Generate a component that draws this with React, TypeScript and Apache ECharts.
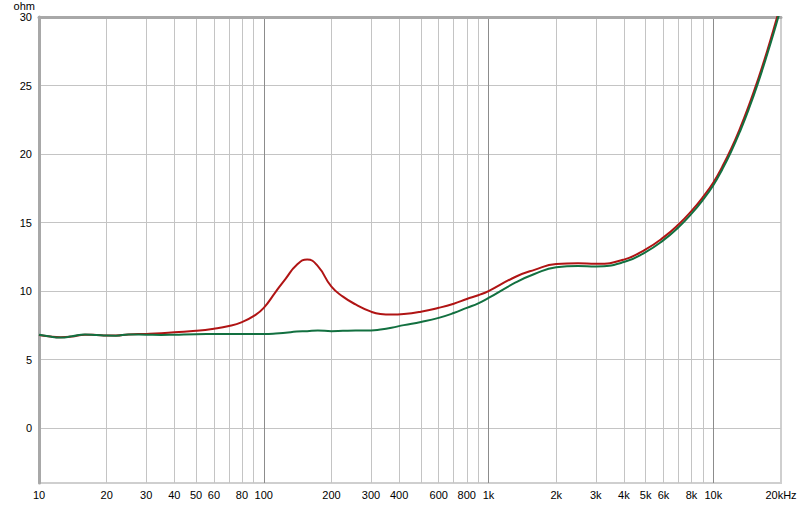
import React, { useEffect, useRef } from "react";
import * as echarts from "echarts";

const freqs = [10, 11, 12.5, 14, 16, 18, 20, 22, 25, 30, 35, 40, 50, 60, 70, 80, 90, 100, 113, 125, 140, 156, 174, 200, 225, 256, 300, 330, 370, 420, 500, 600, 700, 800, 900, 1000, 1320, 1600, 2000, 2500, 3000, 4000, 5000, 6000, 7000, 8000, 9000, 10000, 10960, 12020, 13180, 14450, 15850, 17380, 19050, 20000];

const redOhm = [6.8, 6.7, 6.63, 6.68, 6.82, 6.8, 6.76, 6.76, 6.84, 6.88, 6.93, 7.0, 7.1, 7.25, 7.45, 7.74, 8.17, 8.78, 9.95, 10.9, 11.9, 12.31, 11.82, 10.32, 9.6, 9.03, 8.5, 8.33, 8.29, 8.33, 8.5, 8.78, 9.08, 9.42, 9.7, 10.0, 11.05, 11.55, 11.97, 12.03, 12.0, 12.3, 13.05, 13.92, 14.86, 15.85, 16.87, 17.93, 19.08, 20.41, 21.93, 23.63, 25.5, 27.55, 29.77, 31.0];

const greenOhm = [6.81, 6.7, 6.62, 6.7, 6.84, 6.8, 6.76, 6.75, 6.84, 6.82, 6.8, 6.82, 6.86, 6.87, 6.88, 6.88, 6.87, 6.87, 6.9, 6.96, 7.05, 7.08, 7.13, 7.08, 7.1, 7.12, 7.13, 7.2, 7.33, 7.52, 7.75, 8.05, 8.4, 8.78, 9.1, 9.5, 10.63, 11.25, 11.74, 11.83, 11.8, 12.12, 12.85, 13.72, 14.66, 15.65, 16.67, 17.73, 18.88, 20.2, 21.7, 23.38, 25.25, 27.3, 29.48, 30.7];

const xLabelValues = [10, 20, 30, 40, 50, 60, 80, 100, 200, 300, 400, 600, 800, 1000, 2000, 3000, 4000, 5000, 6000, 8000, 10000, 20000];
const xMinorLines = [20, 30, 40, 50, 60, 70, 80, 90, 200, 300, 400, 500, 600, 700, 800, 900, 2000, 3000, 4000, 5000, 6000, 7000, 8000, 9000];
const xDecadeLines = [100, 1000, 10000];
const yTickValues = [0, 5, 10, 15, 20, 25, 30];

const FONT = "'Liberation Sans', Arial, sans-serif";

function fmtFreq(v: number): string {
  if (v >= 20000) return "20kHz";
  if (v >= 1000) return Math.round(v / 1000) + "k";
  return String(Math.round(v));
}

export default function App() {
  const ref = useRef<HTMLDivElement>(null);
  useEffect(() => {
    if (!ref.current) return;
    const chart = echarts.init(ref.current, null, { renderer: "svg" });
    const red = freqs.map((f, i) => [f, redOhm[i]]);
    const green = freqs.map((f, i) => [f, greenOhm[i]]);
    chart.setOption({
      animation: false,
      backgroundColor: "#ffffff",
      grid: {
        left: 39,
        right: 19,
        top: 17,
        bottom: 22,
        show: true,
        borderColor: "#cfcfcf",
        borderWidth: 2,
        backgroundColor: "#ffffff",
      },
      xAxis: [
        {
          type: "log",
          logBase: 10,
          min: 10,
          max: 20000,
          position: "bottom",
          axisLine: { show: false },
          axisTick: { show: false, customValues: xMinorLines },
          axisLabel: {
            show: true,
            customValues: xLabelValues,
            formatter: (v: number) => fmtFreq(v),
            color: "#000",
            fontFamily: FONT,
            fontSize: 11,
            margin: 6,
          },
          splitLine: { show: true, lineStyle: { color: "#c4c4c4", width: 1 } },
        },
        {
          type: "log",
          logBase: 10,
          min: 10,
          max: 20000,
          position: "top",
          axisLine: { show: true, onZero: false, lineStyle: { color: "#a8a8a8", width: 3 } },
          axisTick: { show: false, customValues: xDecadeLines },
          axisLabel: { show: false },
          splitLine: { show: true, lineStyle: { color: "#8c8c8c", width: 1 } },
        },
      ],
      yAxis: {
        type: "value",
        min: -4,
        max: 30,
        name: "ohm",
        nameLocation: "end",
        nameGap: 4,
        nameTextStyle: {
          color: "#000",
          fontFamily: FONT,
          fontSize: 11,
          align: "right",
          padding: [0, 4, 0, 0],
        },
        axisLine: { show: true, onZero: false, lineStyle: { color: "#a8a8a8", width: 3 } },
        axisTick: { show: false, customValues: yTickValues },
        axisLabel: {
          customValues: yTickValues,
          color: "#000",
          fontFamily: FONT,
          fontSize: 11,
          margin: 7,
        },
        splitLine: { show: true, lineStyle: { color: "#c4c4c4", width: 1 } },
      },
      series: [
        {
          type: "line",
          data: red,
          xAxisIndex: 0,
          showSymbol: false,
          smooth: 0.5,
          clip: true,
          lineStyle: { color: "#b01414", width: 2 },
          z: 3,
        },
        {
          type: "line",
          data: green,
          xAxisIndex: 0,
          showSymbol: false,
          smooth: 0.5,
          clip: true,
          lineStyle: { color: "#127040", width: 2 },
          z: 4,
        },
      ],
    });
    return () => chart.dispose();
  }, []);
  return (
    <div
      ref={ref}
      style={{ position: "fixed", left: 0, top: 0, width: 800, height: 505, background: "#fff" }}
    />
  );
}
